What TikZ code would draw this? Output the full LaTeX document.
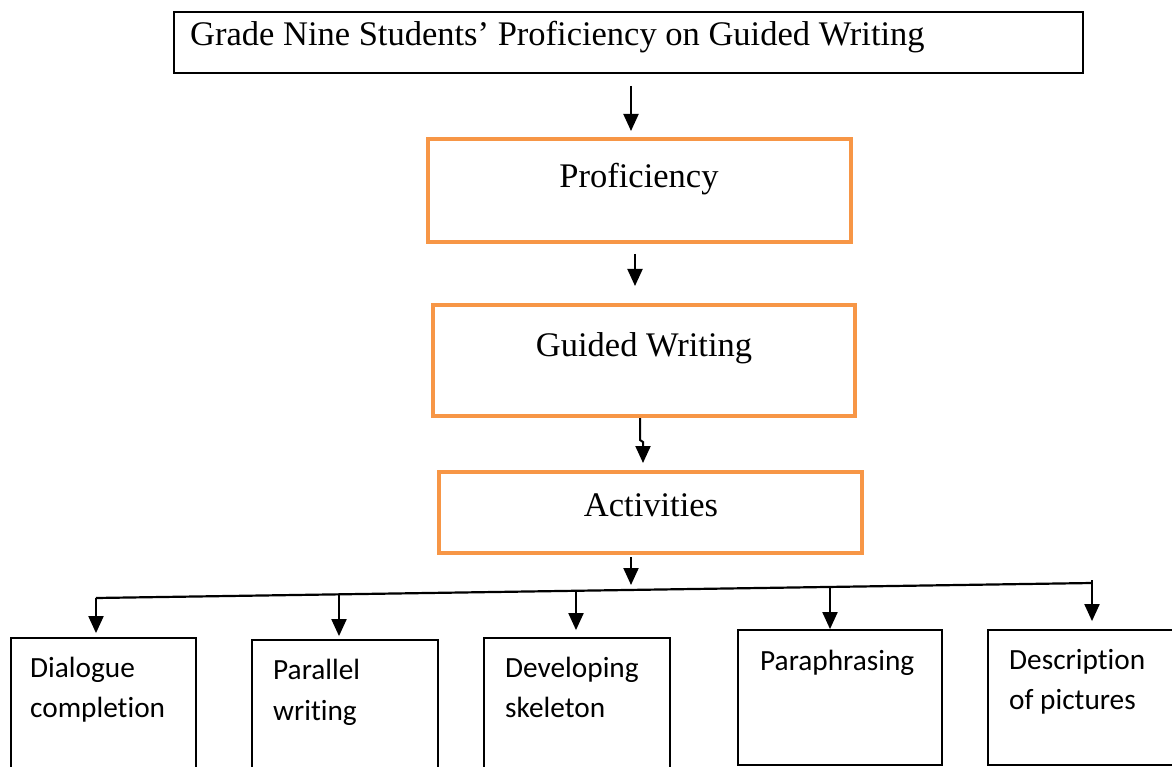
\documentclass[tikz,border=0pt]{standalone}
\usepackage{fontspec}
\setmainfont{Liberation Serif}
\newfontfamily\calib[Ligatures={NoCommon}]{Carlito}
\usetikzlibrary{arrows.meta}
\definecolor{orangeC}{HTML}{F79646}
\begin{document}
\begin{tikzpicture}[x=1pt,y=-1pt,
  bbox/.style={draw=black,line width=1.8pt,inner sep=0pt,rectangle},
  obox/.style={draw=orangeC,line width=4pt,inner sep=0pt,rectangle},
  arr/.style={-{Triangle[length=17pt,width=15pt]},line width=2pt},
  sertext/.style={font=\fontsize{34.5}{40}\selectfont,inner sep=0pt},
  santext/.style={font=\calib\fontsize{29.3}{40}\selectfont,inner sep=0pt,anchor=base west},
  bus/.style={line width=2.2pt}]
\useasboundingbox (0,0) rectangle (1172,767);
% boxes
\node[bbox,minimum width=909pt,minimum height=61pt] (title) at (628.5,42.5) {};
\node[obox,minimum width=423pt,minimum height=103pt] (prof) at (639.5,190.5) {};
\node[obox,minimum width=422pt,minimum height=111pt] (gw) at (644,360.5) {};
\node[obox,minimum width=423pt,minimum height=81pt] (act) at (650.5,512.5) {};
\node[bbox,minimum width=185pt,minimum height=142pt] (b1) at (103.5,709) {};
\node[bbox,minimum width=186pt,minimum height=140pt] (b2) at (345,710) {};
\node[bbox,minimum width=186pt,minimum height=142pt] (b3) at (577,709) {};
\node[bbox,minimum width=204pt,minimum height=135pt] (b4) at (840,697.5) {};
\node[bbox,minimum width=188pt,minimum height=135pt] (b5) at (1082,697.5) {};
% texts
\node[sertext,anchor=base west] (titletext) at (190,46) {Grade Nine Students’ Proficiency on Guided Writing};
\node[sertext,anchor=base] (proftext) at (639,188) {Proficiency};
\node[sertext,anchor=base] (gwtext) at (644,356) {Guided Writing};
\node[sertext,anchor=base] (acttext) at (651,516) {Activities};
\node[santext] (t1a) at (30,677) {Dialogue};
\node[santext] (t1b) at (30,717) {completion};
\node[santext] (t2a) at (273,679) {Parallel};
\node[santext] (t2b) at (273,720) {writing};
\node[santext] (t3a) at (505,677) {Developing};
\node[santext] (t3b) at (505,717) {skeleton};
\node[santext] (t4a) at (760,670) {Paraphrasing};
\node[santext] (t5a) at (1009,669) {Description};
\node[santext] (t5b) at (1009,709) {of pictures};
% vertical arrows
\draw[arr] ([xshift=2.5pt,yshift=-12pt]title.south) -- ([xshift=-8.5pt,yshift=6pt]prof.north);
\draw[arr] ([xshift=-4.5pt,yshift=-10pt]prof.south) -- ([xshift=-9pt,yshift=17pt]gw.north);
\draw[arr] ([xshift=-4pt]gw.south) -- ++(0,22) -- ++(3,2) -- ([xshift=-7.5pt,yshift=7pt]act.north);
\coordinate (busL) at (96,598);
\coordinate (busR) at (1092,583);
\coordinate (j2) at (339,594.3);
\coordinate (j3) at (576,590.8);
\coordinate (j4) at (830,587);
\coordinate (j5top) at (1092,580);
\draw[arr] ([xshift=-19.5pt,yshift=-2pt]act.south) -- ([xshift=-19.5pt,yshift=-30pt]act.south);
% bus and branches
\draw[bus] (busL) -- (busR);
\draw[arr] (busL) -- ([xshift=-7.5pt,yshift=4pt]b1.north);
\draw[arr] (j2) -- ([xshift=-6pt,yshift=3pt]b2.north);
\draw[arr] (j3) -- ([xshift=-1pt,yshift=7pt]b3.north);
\draw[arr] (j4) -- ([xshift=-10pt,yshift=0pt]b4.north);
\draw[arr] (j5top) -- ([xshift=10pt,yshift=8pt]b5.north);
\end{tikzpicture}
\end{document}
